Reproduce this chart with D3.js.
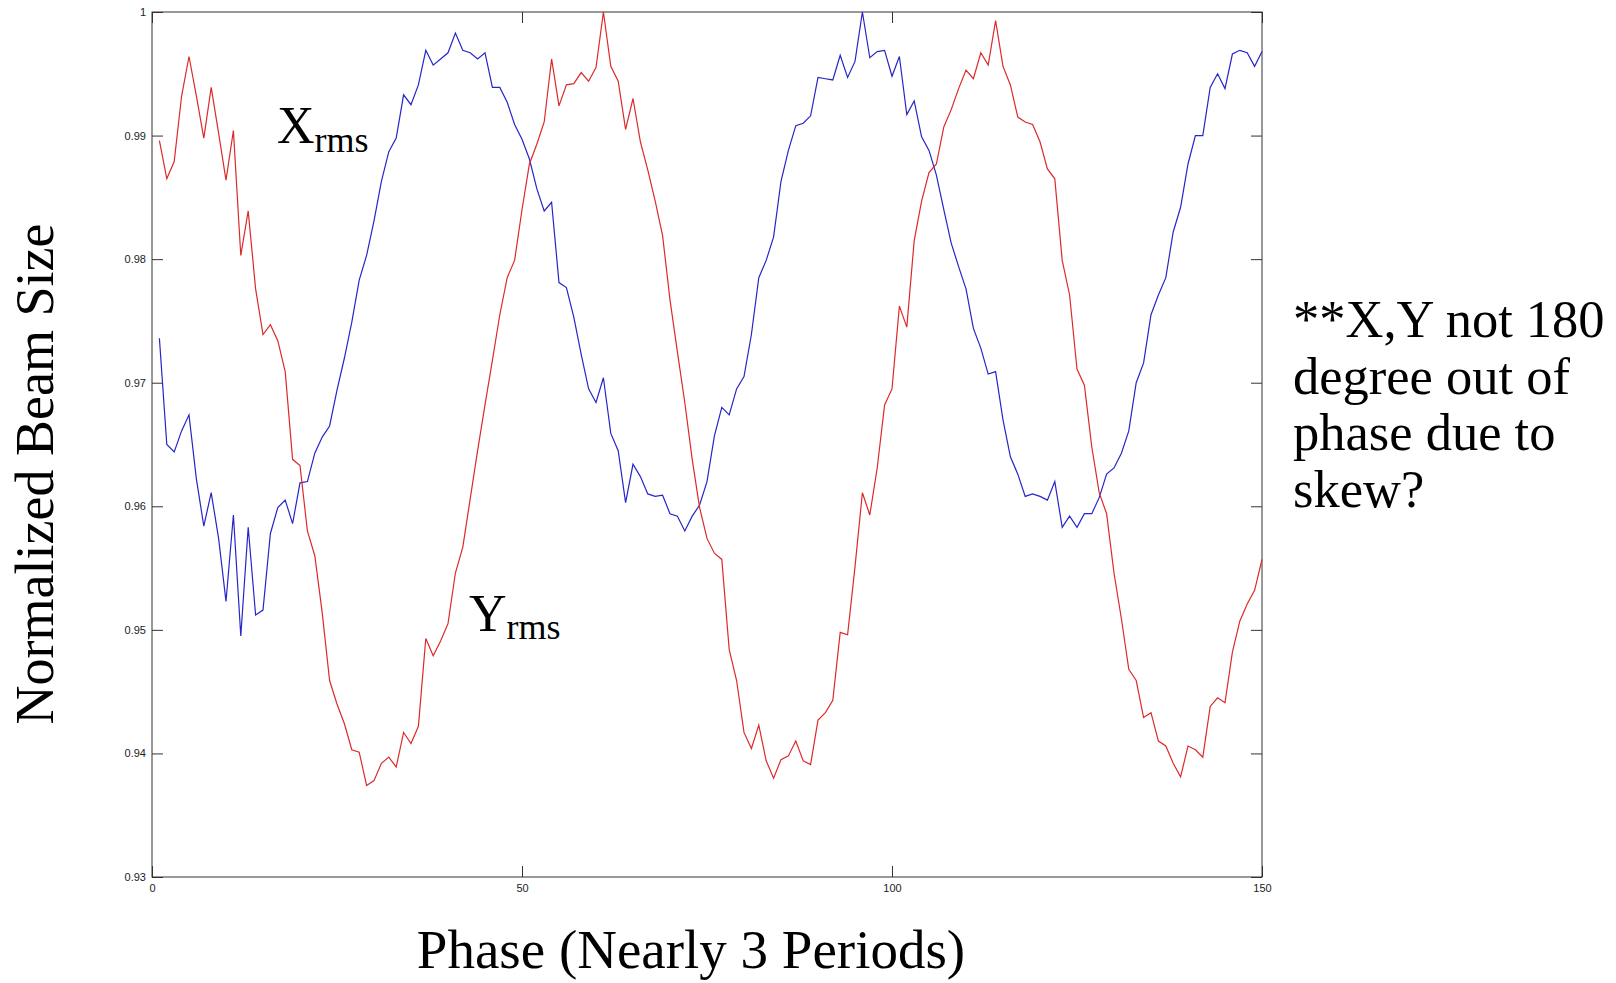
<!DOCTYPE html>
<html>
<head>
<meta charset="utf-8">
<script src="https://cdn.jsdelivr.net/npm/d3@7"></script>
<style>
  body { margin: 0; background: #fff; }
  svg { display: block; background: #fff; }
  .tick text { font-family: "Liberation Sans", Arial, sans-serif; font-size: 11px; fill: #222; }
  .tick line { stroke: #333; }
  .serif { font-family: "Liberation Serif", "Times New Roman", serif; fill: #000; }
</style>
</head>
<body>
<svg width="1616" height="983"></svg>
<script>
// phase index, one sample per step
const phase = d3.range(1, 151);

// normalized rms sizes
const xRms = [
  0.9736, 0.9650, 0.9644, 0.9661, 0.9674, 0.9622, 0.9584, 0.9611, 0.9574, 0.9523,
  0.9593, 0.9495, 0.9583, 0.9512, 0.9516, 0.9578, 0.9599, 0.9605, 0.9586, 0.9619,
  0.9620, 0.9643, 0.9656, 0.9665, 0.9694, 0.9720, 0.9749, 0.9783, 0.9803, 0.9831,
  0.9863, 0.9887, 0.9898, 0.9933, 0.9925, 0.9941, 0.9969, 0.9957, 0.9962, 0.9967,
  0.9983, 0.9969, 0.9967, 0.9962, 0.9967, 0.9939, 0.9939, 0.9927, 0.9909, 0.9897,
  0.9881, 0.9857, 0.9839, 0.9846, 0.9781, 0.9777, 0.9753, 0.9723, 0.9695, 0.9684,
  0.9704, 0.9659, 0.9645, 0.9603, 0.9634, 0.9624, 0.9610, 0.9608, 0.9609, 0.9594,
  0.9592, 0.9580, 0.9592, 0.9601, 0.9620, 0.9657, 0.9680, 0.9674, 0.9695, 0.9705,
  0.9739, 0.9785, 0.9799, 0.9818, 0.9863, 0.9888, 0.9908, 0.9910, 0.9916, 0.9947,
  0.9946, 0.9945, 0.9965, 0.9947, 0.9960, 1.0000, 0.9963, 0.9968, 0.9969, 0.9948,
  0.9964, 0.9917, 0.9928, 0.9899, 0.9888, 0.9868, 0.9840, 0.9813, 0.9794, 0.9776,
  0.9744, 0.9728, 0.9707, 0.9709, 0.9670, 0.9640, 0.9626, 0.9608, 0.9610, 0.9608,
  0.9605, 0.9620, 0.9583, 0.9592, 0.9583, 0.9594, 0.9594, 0.9607, 0.9626, 0.9631,
  0.9643, 0.9661, 0.9700, 0.9716, 0.9755, 0.9771, 0.9785, 0.9822, 0.9842, 0.9877,
  0.9900, 0.9900, 0.9939, 0.9950, 0.9938, 0.9966, 0.9969, 0.9967, 0.9956, 0.9968
];

const yRms = [
  0.9896, 0.9865, 0.9879, 0.9932, 0.9964, 0.9932, 0.9898, 0.9939, 0.9902, 0.9864,
  0.9904, 0.9803, 0.9839, 0.9776, 0.9739, 0.9747, 0.9734, 0.9709, 0.9638, 0.9633,
  0.9580, 0.9560, 0.9514, 0.9459, 0.9440, 0.9424, 0.9403, 0.9401, 0.9374, 0.9378,
  0.9392, 0.9397, 0.9389, 0.9417, 0.9408, 0.9422, 0.9493, 0.9479, 0.9491, 0.9505,
  0.9546, 0.9567, 0.9606, 0.9645, 0.9682, 0.9718, 0.9755, 0.9785, 0.9799, 0.9840,
  0.9877, 0.9893, 0.9911, 0.9962, 0.9924, 0.9941, 0.9942, 0.9951, 0.9944, 0.9955,
  1.0000, 0.9956, 0.9944, 0.9905, 0.9930, 0.9895, 0.9872, 0.9847, 0.9819, 0.9767,
  0.9725, 0.9684, 0.9638, 0.9599, 0.9574, 0.9562, 0.9557, 0.9484, 0.9459, 0.9417,
  0.9404, 0.9423, 0.9394, 0.9380, 0.9395, 0.9398, 0.9410, 0.9394, 0.9391, 0.9427,
  0.9433, 0.9443, 0.9498, 0.9496, 0.9551, 0.9611, 0.9593, 0.9631, 0.9682, 0.9695,
  0.9762, 0.9745, 0.9815, 0.9847, 0.9870, 0.9877, 0.9907, 0.9921, 0.9938, 0.9953,
  0.9946, 0.9967, 0.9957, 0.9993, 0.9956, 0.9941, 0.9915, 0.9911, 0.9909, 0.9895,
  0.9873, 0.9865, 0.9799, 0.9771, 0.9711, 0.9698, 0.9648, 0.9611, 0.9594, 0.9546,
  0.9509, 0.9468, 0.9459, 0.9429, 0.9433, 0.9410, 0.9406, 0.9392, 0.9381, 0.9406,
  0.9403, 0.9397, 0.9438, 0.9445, 0.9441, 0.9482, 0.9507, 0.9521, 0.9532, 0.9557
];

const xTicks = [0, 50, 100, 150];
const yTicks = [0.93, 0.94, 0.95, 0.96, 0.97, 0.98, 0.99, 1];
const note = ['**X,Y not 180', 'degree out of', 'phase due to', 'skew?'];

const marginLeft = 152, marginTop = 12;
const width = 1110, height = 865;
const svg = d3.select('svg');

const chart = svg.append('g')
  .attr('transform', `translate(${marginLeft}, ${marginTop})`);

const xScale = d3.scaleLinear()
  .domain([0, 150])
  .range([0, width]);

const yScale = d3.scaleLinear()
  .domain([0.93, 1])
  .range([height, 0]);

// matlab style box: ticks point inward on all four sides
chart.append('g')
  .call(d3.axisLeft(yScale).tickValues(yTicks).tickSize(-11).tickPadding(6)
    .tickFormat(d => d === 1 ? '1' : d.toFixed(2)));

chart.append('g')
  .attr('transform', `translate(${width}, 0)`)
  .call(d3.axisRight(yScale).tickValues(yTicks).tickSize(-11).tickFormat(''));

chart.append('g')
  .attr('transform', `translate(0, ${height})`)
  .call(d3.axisBottom(xScale).tickValues(xTicks).tickSize(-11).tickPadding(7)
    .tickFormat(d3.format('d')));

chart.append('g')
  .call(d3.axisTop(xScale).tickValues(xTicks).tickSize(-11).tickFormat(''));

chart.selectAll('.domain').remove();

chart.append('rect')
  .attr('width', width)
  .attr('height', height)
  .attr('fill', 'none')
  .attr('stroke', '#333')
  .attr('stroke-width', 1);

const line = d3.line()
  .x((d, i) => xScale(phase[i]))
  .y(d => yScale(d));

chart.append('path')
  .datum(xRms)
  .attr('fill', 'none')
  .attr('stroke', '#2626c8')
  .attr('stroke-width', 1.2)
  .attr('d', line);

chart.append('path')
  .datum(yRms)
  .attr('fill', 'none')
  .attr('stroke', '#dc2a2a')
  .attr('stroke-width', 1.2)
  .attr('d', line);

// series labels with subscripts
const xLab = svg.append('text').attr('class', 'serif')
  .attr('x', 277).attr('y', 143);
xLab.append('tspan').attr('font-size', 52).text('X');
xLab.append('tspan').attr('font-size', 36).attr('dy', 9).text('rms');

const yLab = svg.append('text').attr('class', 'serif')
  .attr('x', 469).attr('y', 631);
yLab.append('tspan').attr('font-size', 52).text('Y');
yLab.append('tspan').attr('font-size', 36).attr('dy', 8).text('rms');

// axis titles
svg.append('text').attr('class', 'serif')
  .attr('x', 691).attr('y', 968)
  .attr('text-anchor', 'middle')
  .attr('font-size', 55)
  .text('Phase (Nearly 3 Periods)');

svg.append('text').attr('class', 'serif')
  .attr('transform', 'translate(53, 474) rotate(-90)')
  .attr('text-anchor', 'middle')
  .attr('font-size', 54)
  .text('Normalized Beam Size');

// side note
svg.append('text').attr('class', 'serif')
  .attr('font-size', 52.5)
  .selectAll('tspan')
  .data(note)
  .enter()
  .append('tspan')
  .attr('x', 1293)
  .attr('y', (d, i) => 337 + i * 56.5)
  .text(d => d);
</script>
</body>
</html>
